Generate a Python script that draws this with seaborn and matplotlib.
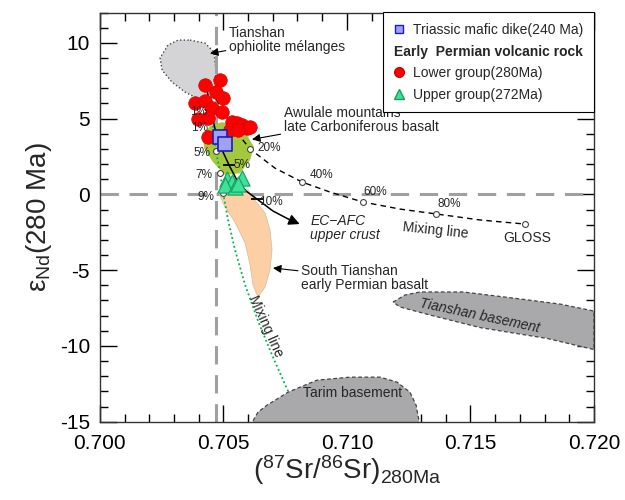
import matplotlib
matplotlib.use("Agg")
import matplotlib.pyplot as plt
import seaborn as sns
from matplotlib.lines import Line2D
from matplotlib.ticker import MultipleLocator, FormatStrFormatter

# --- sample data ---
lower_sr = [0.70426, 0.70487, 0.70470, 0.70499, 0.70385, 0.70426, 0.70454, 0.70495, 0.70398,
            0.70438, 0.70438, 0.70535, 0.70555, 0.70576, 0.70596, 0.70527, 0.70560, 0.70608]
lower_nd = [7.21, 7.54, 6.75, 6.35, 6.02, 6.15, 5.69, 5.43, 4.97,
            5.03, 3.78, 4.77, 4.70, 4.57, 4.37, 4.24, 4.24, 4.44]
upper_sr = [0.70515, 0.70535, 0.70507, 0.70547, 0.70576, 0.70560]
upper_nd = [1.01, 0.81, 0.61, 0.48, 1.08, 0.68]
dike_sr = [0.70487, 0.70505]
dike_nd = [3.78, 3.35]

# --- fields ---
ophiolite_sr = [0.70365, 0.70426, 0.70462, 0.70470, 0.70466, 0.70446, 0.70406, 0.70345,
                0.70292, 0.70252, 0.70244, 0.70276, 0.70317]
ophiolite_nd = [10.18, 9.98, 9.39, 8.20, 7.01, 6.22, 6.22, 6.75, 7.41, 8.20, 9.00, 9.85, 10.18]
awulale_sr = [0.70495, 0.70555, 0.70596, 0.70624, 0.70608, 0.70568, 0.70507, 0.70458,
              0.70422, 0.70418, 0.70446]
awulale_nd = [4.77, 4.51, 3.91, 3.12, 2.26, 1.40, 1.27, 2.13, 3.05, 3.91, 4.51]
stian_sr = [0.70479, 0.70535, 0.70600, 0.70636, 0.70669, 0.70689, 0.70697, 0.70689,
            0.70669, 0.70640, 0.70620, 0.70608, 0.70588, 0.70547, 0.70503]
stian_nd = [0.15, 0.48, 0.28, -0.57, -1.23, -2.36, -3.65, -4.97,
            -6.11, -6.77, -5.98, -4.64, -3.21, -1.83, -0.71]
tsbase_sr = [0.71187, 0.71235, 0.71296, 0.71470, 0.71672, 0.71863, 0.72000,
             0.72000, 0.71811, 0.71539, 0.71336, 0.71215]
tsbase_nd = [-7.11, -6.64, -6.44, -6.44, -6.84, -7.24, -7.70,
             -10.24, -9.51, -8.79, -7.96, -7.43]
tarim_sr = [0.70608, 0.70640, 0.70677, 0.70762, 0.70879, 0.71013, 0.71134,
            0.71203, 0.71255, 0.71280, 0.71296]
tarim_nd = [-15.3, -14.37, -13.91, -13.05, -12.26, -12.06, -12.06,
            -12.39, -13.05, -13.91, -15.3]

# --- model curves ---
gloss_sr = [0.70434, 0.70495, 0.70547, 0.70608, 0.70709, 0.70819, 0.70932,
            0.71066, 0.71215, 0.71360, 0.71539, 0.71721]
gloss_nd = [7.41, 5.56, 4.24, 2.99, 1.73, 0.81, 0.15, -0.51, -0.97, -1.29, -1.69, -1.96]
gloss_mark = [3, 5, 7, 9, 11]
green_sr = [0.70458, 0.70470, 0.70487, 0.70499, 0.70519, 0.70547, 0.70588,
            0.70640, 0.70697, 0.70762]
green_nd = [4.51, 2.86, 1.40, 0.09, -1.69, -3.65, -5.98, -8.33, -10.60, -12.99]
green_mark = [1, 2, 3]
afc_sr = [0.70430, 0.70450, 0.70470, 0.70495, 0.70523, 0.70555, 0.70592,
          0.70636, 0.70701, 0.70770, 0.70819]
afc_nd = [7.21, 5.56, 4.04, 2.92, 1.93, 0.94, 0.22, -0.31, -1.10, -1.69, -2.03]
afc_mark = [1, 4, 7]

bulk_earth_sr = 0.7047

sns.set_style("ticks")
plt.rcParams['font.family'] = ['Liberation Sans', 'DejaVu Sans']
plt.rcParams['axes.unicode_minus'] = False
plt.rcParams['mathtext.fontset'] = 'custom'
plt.rcParams['mathtext.rm'] = 'Liberation Sans'
plt.rcParams['mathtext.it'] = 'Liberation Sans:italic'
plt.rcParams['mathtext.bf'] = 'Liberation Sans:bold'

fig = plt.figure(figsize=(6.25, 5), dpi=100)
ax = fig.add_axes([0.1597, 0.1566, 0.7907, 0.8184])

# reference lines
ax.axvline(bulk_earth_sr, color='#a0a0a0', lw=2.2, ls=(0, (6, 3.5)), zorder=1.5)
ax.axhline(0, color='#a0a0a0', lw=2.2, ls=(0, (6, 3.5)), zorder=1.5)

# fields
ax.fill(ophiolite_sr, ophiolite_nd, facecolor='#d4d4d6', edgecolor='#444444', lw=1, ls=':', zorder=1)
ax.fill(awulale_sr, awulale_nd, facecolor='#a4c83c', edgecolor='none', zorder=2)
ax.fill(stian_sr, stian_nd, facecolor='#fcd0a4', edgecolor='#d8b898', lw=0.5, zorder=2)
ax.fill(tsbase_sr, tsbase_nd, facecolor='#a9a9ac', edgecolor='#444444', lw=0.9, ls=(0, (3, 2)), zorder=2)
ax.fill(tarim_sr, tarim_nd, facecolor='#a9a9ac', edgecolor='#444444', lw=0.9, ls=(0, (3, 2)), zorder=2)

# mixing curves
sns.lineplot(x=gloss_sr, y=gloss_nd, sort=False, estimator=None, color='k', lw=1,
             linestyle=(0, (4, 3)), ax=ax, zorder=3)
sns.lineplot(x=green_sr, y=green_nd, sort=False, estimator=None, color='#00b050', lw=1.3,
             linestyle=(0, (1, 1.5)), ax=ax, zorder=3)
sns.lineplot(x=afc_sr[:-1], y=afc_nd[:-1], sort=False, estimator=None, color='k', lw=1.1,
             ax=ax, zorder=3)
ax.annotate('', xy=(afc_sr[-1], afc_nd[-1]), xytext=(afc_sr[-2], afc_nd[-2]),
            arrowprops=dict(arrowstyle='-|>', color='k', lw=1.1, mutation_scale=16), zorder=3)
sns.scatterplot(x=[afc_sr[i] for i in afc_mark], y=[afc_nd[i] for i in afc_mark], marker='_',
                s=70, color='k', linewidth=1.3, ax=ax, zorder=4, legend=False)
sns.scatterplot(x=[gloss_sr[i] for i in gloss_mark], y=[gloss_nd[i] for i in gloss_mark],
                marker='o', s=18, facecolor='white', edgecolor='#444444', linewidth=0.8,
                ax=ax, zorder=4, legend=False)
sns.scatterplot(x=[green_sr[i] for i in green_mark], y=[green_nd[i] for i in green_mark],
                marker='o', s=18, facecolor='white', edgecolor='#444444', linewidth=0.8,
                ax=ax, zorder=4, legend=False)

# samples
sns.scatterplot(x=lower_sr, y=lower_nd, marker='o', s=95, color='#ff0000', edgecolor='#d80000',
                linewidth=0.5, ax=ax, zorder=5, legend=False)
sns.scatterplot(x=dike_sr, y=dike_nd, marker='s', s=100, color='#a0a0f4', edgecolor='#1c1cc0',
                linewidth=1.2, ax=ax, zorder=6, legend=False)
sns.scatterplot(x=upper_sr, y=upper_nd, marker='^', s=120, color='#40e098', edgecolor='#10a060',
                linewidth=0.8, ax=ax, zorder=6, legend=False)

# percentages
pct = dict(fontsize=8.5, va='center', zorder=7)
ax.text(0.70435, 5.43, '1%', ha='right', **pct)
ax.text(0.70440, 4.37, '1%', ha='right', **pct)
ax.text(0.70446, 2.72, '5%', ha='right', **pct)
ax.text(0.70454, 1.27, '7%', ha='right', **pct)
ax.text(0.70462, -0.18, '9%', ha='right', **pct)
ax.text(0.70539, 1.93, '5%', ha='left', **pct)
ax.text(0.70645, -0.51, '10%', ha='left', **pct)
ax.text(0.70636, 3.05, '20%', ha='left', **pct)
ax.text(0.70851, 1.27, '40%', ha='left', **pct)
ax.text(0.71066, 0.15, '60%', ha='left', **pct)
ax.text(0.71365, -0.64, '80%', ha='left', **pct)

# annotations
lab = dict(fontsize=10, linespacing=1.0)
ax.text(0.71729, -2.88, 'GLOSS', ha='center', va='center', **lab)
ax.text(0.71357, -2.37, 'Mixing line', ha='center', va='center', rotation=-6, **lab)
ax.text(0.70673, -8.69, 'Mixing line', ha='center', va='center', rotation=-66, **lab)
ax.text(0.70851, -2.22, 'EC\u2212AFC\nupper crust', ha='left', va='center', style='italic', **lab)
ax.text(0.71539, -8.03, 'Tianshan basement', ha='center', va='center', style='italic',
        rotation=-12, **lab)
ax.text(0.71021, -13.08, 'Tarim basement', ha='center', va='center', **lab)

arr = dict(arrowstyle='-|>', color='k', lw=0.8, mutation_scale=12, shrinkA=0, shrinkB=0)
ax.annotate('Tianshan\nophiolite m\u00e9langes', xy=(0.70446, 9.30), xytext=(0.70523, 10.2),
            ha='left', va='center', arrowprops=arr, **lab)
ax.annotate('Awulale mountains\nlate Carboniferous basalt', xy=(0.70616, 3.63),
            xytext=(0.70745, 4.93), ha='left', va='center', arrowprops=arr, **lab)
ax.annotate('South Tianshan\nearly Permian basalt', xy=(0.70701, -4.86),
            xytext=(0.70815, -5.52), ha='left', va='center', arrowprops=arr, **lab)

# axes
ax.set_xlim(0.700, 0.720)
ax.set_ylim(-15, 12)
ax.xaxis.set_major_locator(MultipleLocator(0.005))
ax.xaxis.set_minor_locator(MultipleLocator(0.001))
ax.yaxis.set_major_locator(MultipleLocator(5))
ax.yaxis.set_minor_locator(MultipleLocator(1))
ax.xaxis.set_major_formatter(FormatStrFormatter('%.3f'))
ax.tick_params(which='both', direction='in', top=True, right=True, width=1, colors='k')
ax.tick_params(which='major', length=12, labelsize=15)
ax.tick_params(axis='x', which='major', pad=9)
ax.tick_params(axis='y', which='major', pad=7)
ax.tick_params(which='minor', length=6)
for s in ax.spines.values():
    s.set_linewidth(1)
    s.set_color('#333333')

ax.set_xlabel(r'($^{87}$Sr/$^{86}$Sr)$_{\rm 280Ma}$', fontsize=20, labelpad=0)
ax.set_ylabel('\u03b5$_{\\rm Nd}$(280 Ma)', fontsize=20, labelpad=4)

handles = [
    Line2D([], [], ls='', marker='s', markersize=6, markerfacecolor='#a0a0f4', markeredgecolor='#1c1cc0'),
    Line2D([], [], ls='', marker=None),
    Line2D([], [], ls='', marker='o', markersize=7, markerfacecolor='#ff0000', markeredgecolor='#d00000'),
    Line2D([], [], ls='', marker='^', markersize=7, markerfacecolor='#40e098', markeredgecolor='#10a060'),
]
labels = ['Triassic mafic dike(240 Ma)', 'Early  Permian volcanic rock',
          'Lower group(280Ma)', 'Upper group(272Ma)']
leg = ax.legend(handles, labels, loc='upper right', bbox_to_anchor=(1, 1), borderaxespad=0,
                frameon=True, fancybox=False, edgecolor='k', framealpha=1, fontsize=10,
                handlelength=0.8, handletextpad=0.6, labelspacing=0.55, borderpad=0.75)
leg.get_texts()[1].set_fontweight('bold')
leg.get_frame().set_linewidth(0.8)
leg.set_zorder(10)
# header row of the legend starts at the marker column
try:
    header_row = leg._legend_handle_box.get_children()[0].get_children()[1]
    header_row.get_children()[0].width = 0
    header_row.sep = 0
except Exception:
    pass

fig.savefig('out.png', dpi=100)
